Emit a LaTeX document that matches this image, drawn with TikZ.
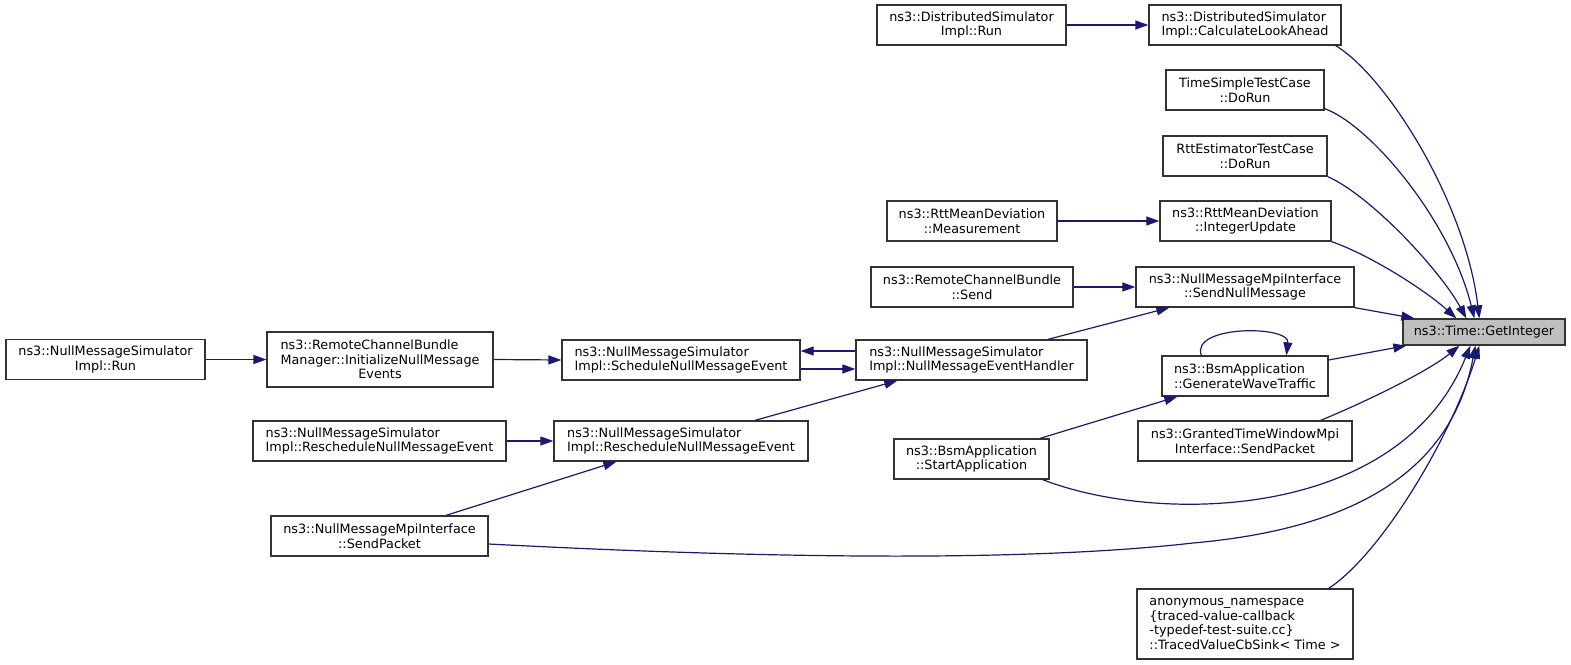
\documentclass[tikz,border=0pt]{standalone}
\usepackage{fontspec}
\setmainfont{DejaVu Sans}
\usetikzlibrary{arrows.meta,calc}
\definecolor{edgec}{HTML}{191970}
\definecolor{nodeb}{HTML}{333333}
\definecolor{hl}{HTML}{BFBFBF}
\begin{document}
\begin{tikzpicture}[x=1pt,y=-1pt,
  fn/.style={draw=nodeb, line width=1.3pt, fill=white, inner sep=0pt, minimum height=40pt,
    font=\fontsize{12.8}{14.5}\selectfont, align=center},
  fnl/.style={fn, align=left},
  calls/.style={draw=edgec, line width=1.2pt, -{Triangle[length=13pt,width=9pt]}, color=edgec}]
\useasboundingbox (0,0) rectangle (1571,664);
% nodes
\node[fn, minimum width=189pt] (A) at (971.5,25) {ns3::DistributedSimulator\\Impl::Run};
\node[fnl, minimum width=192pt] (B) at (1245,25) {ns3::DistributedSimulator\\Impl::CalculateLookAhead};
\node[fn, minimum width=158pt] (C) at (1245,90) {TimeSimpleTestCase\\::DoRun};
\node[fn, minimum width=164pt] (D) at (1245,156) {RttEstimatorTestCase\\::DoRun};
\node[fn, minimum width=170pt] (E) at (972,221) {ns3::RttMeanDeviation\\::Measurement};
\node[fn, minimum width=171pt] (F) at (1245.5,221) {ns3::RttMeanDeviation\\::IntegerUpdate};
\node[fn, minimum width=202pt] (G) at (972,287) {ns3::RemoteChannelBundle\\::Send};
\node[fn, minimum width=218pt] (H) at (1245,287) {ns3::NullMessageMpiInterface\\::SendNullMessage};
\node[fnl, minimum width=231pt] (I) at (971.5,360) {ns3::NullMessageSimulator\\Impl::NullMessageEventHandler};
\node[fnl, minimum width=166pt] (J) at (1245,376) {ns3::BsmApplication\\::GenerateWaveTraffic};
\node[fn, minimum width=155pt] (K) at (971.5,459) {ns3::BsmApplication\\::StartApplication};
\node[fn, minimum width=214pt] (L) at (1245,441) {ns3::GrantedTimeWindowMpi\\Interface::SendPacket};
\node[fnl, minimum width=216pt, minimum height=70pt] (M) at (1245,624) {anonymous\_namespace\\\{traced-value-callback\\-typedef-test-suite.cc\}\\::TracedValueCbSink< Time >};
\node[fn, fill=hl, minimum width=162pt, minimum height=26pt] (N) at (1484,332) {ns3::Time::GetInteger};
\node[fn, minimum width=199pt] (O) at (105.5,359.5) {ns3::NullMessageSimulator\\Impl::Run};
\node[fn, minimum width=226pt, minimum height=55pt] (P) at (380,359.5) {\rlap{ns3::RemoteChannelBundle}\phantom{Manager::InitializeNullMessage}\\Manager::InitializeNullMessage\\Events};
\node[fnl, minimum width=238pt] (Q) at (681,360) {ns3::NullMessageSimulator\\Impl::ScheduleNullMessageEvent};
\node[fnl, minimum width=254pt] (R) at (681,441) {ns3::NullMessageSimulator\\Impl::RescheduleNullMessageEvent};
\node[fnl, minimum width=253pt] (S) at (379.5,441) {ns3::NullMessageSimulator\\Impl::RescheduleNullMessageEvent};
\node[fn, minimum width=217pt] (T) at (379.5,536) {ns3::NullMessageMpiInterface\\::SendPacket};
% straight edges
\draw[calls] (A.east) -- (B.west);
\draw[calls] (E.east) -- (F.west);
\draw[calls] (G.east) -- (H.west);
\draw[calls] (O.east) -- (P.west);
\draw[calls] (P.east) -- (Q.west);
\draw[calls] ($(Q.east)+(0,9)$) -- ($(I.west)+(0,9)$);
\draw[calls] ($(I.west)+(0,-9)$) -- ($(Q.east)+(0,-9)$);
\draw[calls] (S.east) -- (R.west);
\draw[calls] ($(R.north)+(74,0)$) -- ($(I.south west)+(42,0)$);
\draw[calls] ($(T.north)+(66.5,0)$) -- ($(R.south west)+(63,0)$);
\draw[calls] ($(I.north)+(76.5,0)$) -- ($(H.south west)+(34,0)$);
\draw[calls] ($(K.north)+(68.5,0)$) -- ($(J.south west)+(16,0)$);
\draw[calls] ($(J.north west)+(40,0)$) .. controls (1190,325) and (1290,325) .. ($(J.north west)+(125,0)$);
% into GetInteger (top)
\draw[calls] (H.south east) -- ($(N.north west)+(12,0)$);
\draw[calls] (F.south east) .. controls (1370,255) and (1425,290) .. ($(N.north west)+(54,0)$);
\draw[calls] (D.south east) .. controls (1370,195) and (1440,270) .. ($(N.north west)+(64,0)$);
\draw[calls] ($(C.south east)+(0,-2)$) .. controls (1370,125) and (1450,220) .. ($(N.north west)+(72,0)$);
\draw[calls] ($(B.south east)+(-6,0)$) .. controls (1385,75) and (1465,200) .. ($(N.north west)+(77,0)$);
% into GetInteger (bottom)
\draw[calls] ($(J.east)+(0,-16)$) -- ($(N.south west)+(4,0)$);
\draw[calls] ($(L.north east)+(-32,0)$) .. controls (1370,400) and (1430,370) .. ($(N.south west)+(57,0)$);
\draw[calls] ($(K.south east)+(-7,0)$) .. controls (1160,525) and (1400,520) .. ($(N.south west)+(68,0)$);
\draw[calls] ($(T.east)+(0,8)$) .. controls (700,555) and (1000,565) .. (1193,543) .. controls (1340,530) and (1450,480) .. ($(N.south west)+(73,0)$);
\draw[calls] ($(M.north east)+(-25,0)$) .. controls (1380,555) and (1450,440) .. ($(N.south west)+(77,0)$);
\end{tikzpicture}
\end{document}
